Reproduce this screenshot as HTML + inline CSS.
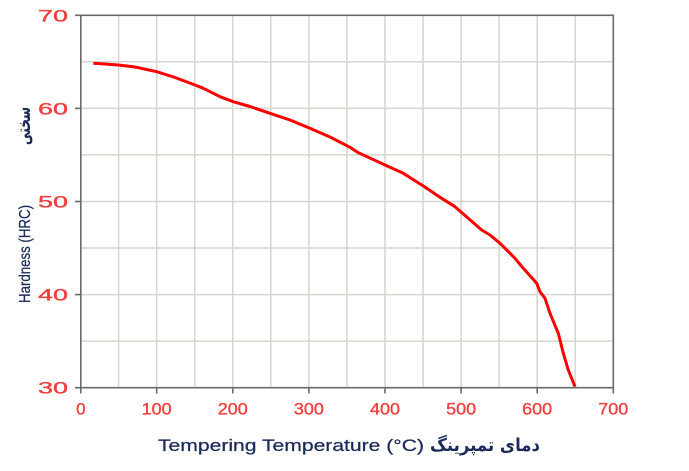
<!DOCTYPE html>
<html><head><meta charset="utf-8"><style>
html,body{margin:0;padding:0;background:#fff;}
svg{display:block;}
</style></head><body>
<svg width="689" height="471" viewBox="0 0 689 471" xmlns="http://www.w3.org/2000/svg">
<rect width="689" height="471" fill="#fff"/>
<g stroke="#d6d6ce" stroke-width="1.5">
<line x1="118.6" y1="15.3" x2="118.6" y2="387.7"/>
<line x1="156.7" y1="15.3" x2="156.7" y2="387.7"/>
<line x1="194.7" y1="15.3" x2="194.7" y2="387.7"/>
<line x1="232.8" y1="15.3" x2="232.8" y2="387.7"/>
<line x1="270.8" y1="15.3" x2="270.8" y2="387.7"/>
<line x1="308.9" y1="15.3" x2="308.9" y2="387.7"/>
<line x1="346.9" y1="15.3" x2="346.9" y2="387.7"/>
<line x1="385.0" y1="15.3" x2="385.0" y2="387.7"/>
<line x1="423.0" y1="15.3" x2="423.0" y2="387.7"/>
<line x1="461.1" y1="15.3" x2="461.1" y2="387.7"/>
<line x1="499.1" y1="15.3" x2="499.1" y2="387.7"/>
<line x1="537.2" y1="15.3" x2="537.2" y2="387.7"/>
<line x1="575.2" y1="15.3" x2="575.2" y2="387.7"/>
<line x1="80.5" y1="61.8" x2="613.3" y2="61.8"/>
<line x1="80.5" y1="108.4" x2="613.3" y2="108.4"/>
<line x1="80.5" y1="154.9" x2="613.3" y2="154.9"/>
<line x1="80.5" y1="201.5" x2="613.3" y2="201.5"/>
<line x1="80.5" y1="248.0" x2="613.3" y2="248.0"/>
<line x1="80.5" y1="294.6" x2="613.3" y2="294.6"/>
<line x1="80.5" y1="341.1" x2="613.3" y2="341.1"/>
</g>
<g stroke="#6a6a6a" stroke-width="1.6" fill="none">
<rect x="80.8" y="15.3" width="532.5" height="372.4"/>
<line x1="75" y1="15.3" x2="80.8" y2="15.3"/>
<line x1="75" y1="108.4" x2="80.8" y2="108.4"/>
<line x1="75" y1="201.5" x2="80.8" y2="201.5"/>
<line x1="75" y1="294.6" x2="80.8" y2="294.6"/>
<line x1="75" y1="387.7" x2="80.8" y2="387.7"/>
<line x1="80.8" y1="387.7" x2="80.8" y2="393.5"/>
<line x1="156.7" y1="387.7" x2="156.7" y2="393.5"/>
<line x1="232.8" y1="387.7" x2="232.8" y2="393.5"/>
<line x1="308.9" y1="387.7" x2="308.9" y2="393.5"/>
<line x1="385.0" y1="387.7" x2="385.0" y2="393.5"/>
<line x1="461.1" y1="387.7" x2="461.1" y2="393.5"/>
<line x1="537.2" y1="387.7" x2="537.2" y2="393.5"/>
<line x1="613.3" y1="387.7" x2="613.3" y2="393.5"/>
</g>
<polyline fill="none" stroke="#ff0000" stroke-width="3" stroke-linejoin="round" stroke-linecap="butt" points="93.3,63.3 105,64 118.3,65 135,67 156.7,71.7 175,77.5 195,85 203.3,88.3 220,96.7 233.3,101.7 250,106.5 270,113.3 290,120 310,128.3 330,137 350,147.3 358.3,152.7 385,165 403.3,173.3 423.3,186 440,197.3 455,206.7 463.3,214 481.7,230 490,235 500,243.3 515,258.3 523.3,268.3 536.7,283.3 540,291.7 545,298.3 550,313.3 558.3,333.3 563.3,353.3 568.3,370 575,386.7"/>
<g font-family="Liberation Sans, sans-serif" font-size="17" fill="#f03e3e" stroke="#f03e3e" stroke-width="0.35">
<text x="68" y="21.3" text-anchor="end" textLength="30" lengthAdjust="spacingAndGlyphs">70</text>
<text x="68" y="114.4" text-anchor="end" textLength="30" lengthAdjust="spacingAndGlyphs">60</text>
<text x="68" y="207.5" text-anchor="end" textLength="30" lengthAdjust="spacingAndGlyphs">50</text>
<text x="68" y="300.6" text-anchor="end" textLength="30" lengthAdjust="spacingAndGlyphs">40</text>
<text x="68" y="393.7" text-anchor="end" textLength="30" lengthAdjust="spacingAndGlyphs">30</text>
<text x="80.8" y="414.5" text-anchor="middle">0</text>
<text x="156.7" y="414.5" text-anchor="middle" textLength="30" lengthAdjust="spacingAndGlyphs">100</text>
<text x="232.8" y="414.5" text-anchor="middle" textLength="30" lengthAdjust="spacingAndGlyphs">200</text>
<text x="308.9" y="414.5" text-anchor="middle" textLength="30" lengthAdjust="spacingAndGlyphs">300</text>
<text x="385.0" y="414.5" text-anchor="middle" textLength="30" lengthAdjust="spacingAndGlyphs">400</text>
<text x="461.1" y="414.5" text-anchor="middle" textLength="30" lengthAdjust="spacingAndGlyphs">500</text>
<text x="537.2" y="414.5" text-anchor="middle" textLength="30" lengthAdjust="spacingAndGlyphs">600</text>
<text x="613.3" y="414.5" text-anchor="middle" textLength="30" lengthAdjust="spacingAndGlyphs">700</text>
</g>
<g fill="#1b2a5a">
<text x="158" y="451" font-family="Liberation Sans, sans-serif" font-size="17" stroke="#1b2a5a" stroke-width="0.25" textLength="266" lengthAdjust="spacingAndGlyphs">Tempering Temperature (°C)</text>
<text x="540" y="451" font-family="DejaVu Sans, sans-serif" font-size="18" font-weight="bold" text-anchor="end" textLength="110" lengthAdjust="spacingAndGlyphs">دمای تمپرینگ</text>
<g transform="translate(30,303) rotate(-90)">
<text x="0" y="0" font-family="Liberation Sans, sans-serif" font-size="16" stroke="#1b2a5a" stroke-width="0.25" textLength="98" lengthAdjust="spacingAndGlyphs">Hardness (HRC)</text>
</g>
<g transform="translate(30,145) rotate(-90)">
<text x="0" y="0" font-family="DejaVu Sans, sans-serif" font-size="19" font-weight="bold" textLength="38" lengthAdjust="spacingAndGlyphs">سختی</text>
</g>
</g>
</svg>
</body></html>
